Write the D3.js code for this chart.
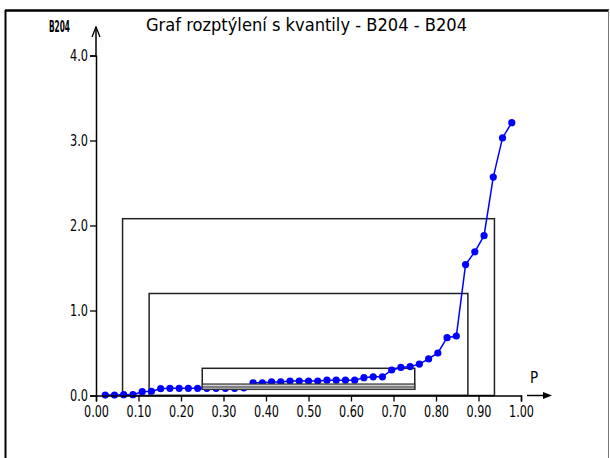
<!DOCTYPE html>
<meta charset="utf-8">
<style>
body { margin: 0; background: #fff; }
.tick text, .lbl { font-family: "Liberation Sans Narrow", "DejaVu Sans Condensed", "Liberation Sans", sans-serif; }
</style>
<body>
<script src="https://d3js.org/d3.v7.min.js"></script>
<script>

// sorted sample values (quantiles), n = 45, plotted at p = i/(n+1)
var values = [0.005, 0.005, 0.01, 0.01, 0.045, 0.05, 0.08, 0.085, 0.085, 0.085,
              0.085, 0.085, 0.085, 0.085, 0.085, 0.09, 0.15, 0.15, 0.16, 0.16,
              0.17, 0.17, 0.17, 0.17, 0.18, 0.18, 0.18, 0.18, 0.21, 0.22,
              0.22, 0.30, 0.33, 0.34, 0.37, 0.43, 0.50, 0.68, 0.70, 1.54,
              1.69, 1.88, 2.57, 3.03, 3.21];

// quantile boxes: [p low, p high, q low, q high]
var boxes = [[0.0625, 0.9375, 0.0, 2.08],
             [0.125, 0.875, 0.0, 1.20],
             [0.25, 0.75, 0.073, 0.32]];
// inner band of the 0.25-0.75 box
var band = [0.25, 0.75, 0.073, 0.135];
var bandMid = 0.10;

var xTicks = [0, 0.1, 0.2, 0.3, 0.4, 0.5, 0.6, 0.7, 0.8, 0.9, 1.0];
var yTicks = [0, 1, 2, 3, 4];

var W = 610, H = 458;

var svg = d3.select("body").append("svg")
    .attr("width", W)
    .attr("height", H);

var x = d3.scaleLinear().domain([0, 1]).range([96, 521]);
var y = d3.scaleLinear().domain([0, 4]).range([395.5, 55.5]);

var n = values.length;
var pts = values.map(function(v, i) { return {p: (i + 1) / (n + 1), v: v}; });

// frame
svg.append("line").attr("x1", 5.5).attr("x2", 5.5).attr("y1", 10).attr("y2", H)
    .attr("stroke", "#000").attr("stroke-width", 2);
svg.append("line").attr("x1", 5).attr("x2", 609).attr("y1", 10.5).attr("y2", 10.5)
    .attr("stroke", "#000").attr("stroke-width", 2.5);
svg.append("line").attr("x1", 608.5).attr("x2", 608.5).attr("y1", 10).attr("y2", H)
    .attr("stroke", "#777").attr("stroke-width", 1);

// title
svg.append("text").attr("class", "lbl")
    .attr("x", 146).attr("y", 31)
    .attr("font-size", 17)
    .attr("textLength", 321).attr("lengthAdjust", "spacingAndGlyphs")
    .text("Graf rozptýlení s kvantily - B204 -  B204");

// y label
svg.append("text").attr("class", "lbl")
    .attr("x", 49).attr("y", 32)
    .attr("font-size", 15).attr("font-weight", "bold")
    .attr("textLength", 21).attr("lengthAdjust", "spacingAndGlyphs")
    .text("B204");

// x label
svg.append("text").attr("class", "lbl")
    .attr("x", 530).attr("y", 383)
    .attr("font-size", 15)
    .text("P");

// boxes
svg.selectAll(".box")
    .data(boxes)
  .enter().append("rect")
    .attr("class", "box")
    .attr("x", function(d) { return x(d[0]); })
    .attr("y", function(d) { return y(d[3]); })
    .attr("width", function(d) { return x(d[1]) - x(d[0]); })
    .attr("height", function(d) { return y(d[2]) - y(d[3]); })
    .attr("fill", "none")
    .attr("stroke", "#222")
    .attr("stroke-width", 1.5);

// quantile line + points
var line = d3.line()
    .x(function(d) { return x(d.p); })
    .y(function(d) { return y(d.v); });

svg.append("path")
    .datum(pts)
    .attr("d", line)
    .attr("fill", "none")
    .attr("stroke", "#0000ff")
    .attr("stroke-width", 1.5);

svg.selectAll(".pt")
    .data(pts)
  .enter().append("circle")
    .attr("class", "pt")
    .attr("cx", function(d) { return x(d.p); })
    .attr("cy", function(d) { return y(d.v); })
    .attr("r", 3.6)
    .attr("fill", "#0000ff");

// inner band
svg.append("rect")
    .attr("x", x(band[0]))
    .attr("y", y(band[3]))
    .attr("width", x(band[1]) - x(band[0]))
    .attr("height", y(band[2]) - y(band[3]))
    .attr("fill", "#d0d0d0")
    .attr("stroke", "#333")
    .attr("stroke-width", 1.2);
svg.append("line")
    .attr("x1", x(band[0])).attr("x2", x(band[1]))
    .attr("y1", y(bandMid)).attr("y2", y(bandMid))
    .attr("stroke", "#333").attr("stroke-width", 1.2);

// x axis
var gx = svg.append("g")
    .attr("transform", "translate(0," + y(0) + ")")
    .call(d3.axisBottom(x).tickValues(xTicks).tickFormat(d3.format(".2f"))
        .tickSizeOuter(0).tickSize(6).tickPadding(4));
gx.select(".domain").attr("stroke-width", 1.5);
gx.selectAll(".tick line").attr("stroke-width", 1.3);
gx.selectAll(".tick text").attr("font-size", 16).attr("fill", "#000")
    .attr("textLength", 25).attr("lengthAdjust", "spacingAndGlyphs");

// y axis
var gy = svg.append("g")
    .attr("transform", "translate(" + x(0) + ",0)")
    .call(d3.axisLeft(y).tickValues(yTicks).tickFormat(d3.format(".1f"))
        .tickSizeOuter(0).tickSize(6).tickPadding(2));
gy.select(".domain").attr("stroke-width", 1.5);
gy.selectAll(".tick line").attr("stroke-width", 1.3);
gy.selectAll(".tick text").attr("font-size", 16).attr("fill", "#000")
    .attr("textLength", 18).attr("lengthAdjust", "spacingAndGlyphs");

// y axis extension with open arrow
svg.append("line").attr("x1", x(0)).attr("x2", x(0)).attr("y1", y(4)).attr("y2", 27)
    .attr("stroke", "#000").attr("stroke-width", 1.5);
svg.append("path").attr("d", "M" + (x(0) - 4) + ",37L" + x(0) + ",27L" + (x(0) + 4) + ",37")
    .attr("fill", "none").attr("stroke", "#000").attr("stroke-width", 1.3);

// x axis arrow
svg.append("line").attr("x1", 527).attr("x2", 546).attr("y1", y(0)).attr("y2", y(0))
    .attr("stroke", "#000").attr("stroke-width", 1.5);
svg.append("path").attr("d", "M543," + (y(0) - 3.5) + "L552," + y(0) + "L543," + (y(0) + 3.5) + "Z")
    .attr("fill", "#000");

</script>
</body>
